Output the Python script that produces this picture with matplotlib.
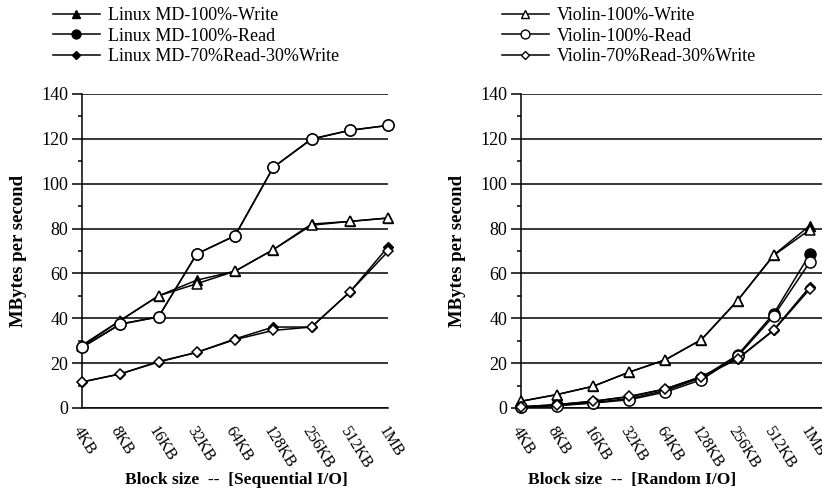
import matplotlib
matplotlib.use('Agg')
import matplotlib.pyplot as plt
from matplotlib.lines import Line2D
from matplotlib.ticker import MultipleLocator
import matplotlib.transforms as mtransforms

plt.rcParams['font.family'] = ['Liberation Serif', 'DejaVu Serif']

block_sizes = ['4KB', '8KB', '16KB', '32KB', '64KB', '128KB', '256KB', '512KB', '1MB']

# Sequential I/O
seq_md_write = [28, 39, 50, 57, 61, 70.6, 82, 83.2, 84.7]
seq_md_read = [27, 37.5, 40.6, 68.7, 76.8, 107.3, 120, 123.8, 126]
seq_md_mixed = [11.6, 15.2, 20.7, 24.8, 30.8, 36.1, 36.1, 51.7, 71.8]
seq_vi_write = [27.5, 39, 50, 55.4, 61, 70.6, 81.5, 83.2, 84.7]
seq_vi_read = [27, 37.3, 40.6, 68.7, 76.8, 107.3, 119.8, 123.8, 126]
seq_vi_mixed = [11.6, 15.2, 20.5, 24.8, 30.5, 34.6, 36.1, 51.7, 69.8]

# Random I/O
rnd_md_write = [3, 6, 9.7, 16, 21.5, 30.5, 47.9, 68.2, 81.3]
rnd_md_read = [0.5, 1.2, 2.4, 4.2, 7.8, 13.5, 23.6, 42, 68.5]
rnd_md_mixed = [0.5, 1.5, 3, 5, 8.5, 14, 22, 34.8, 54]
rnd_vi_write = [3, 6, 9.7, 16, 21.5, 30.5, 47.9, 68, 79.5]
rnd_vi_read = [0.3, 1, 2.2, 3.7, 7.1, 12.6, 23, 41, 65]
rnd_vi_mixed = [0.5, 1.5, 3, 5.2, 8.5, 14, 21.8, 34.6, 53]

md_labels = ['Linux MD-100%-Write', 'Linux MD-100%-Read', 'Linux MD-70%Read-30%Write']
vi_labels = ['Violin-100%-Write', 'Violin-100%-Read', 'Violin-70%Read-30%Write']

markers = ['^', 'o', 'D']
sizes = [7, 8, 5.5]

fig = plt.figure(figsize=(8.22, 4.95), dpi=100)
ax1 = fig.add_axes([82 / 822, 87 / 495, 306 / 822, 314 / 495])
ax2 = fig.add_axes([521 / 822, 87 / 495, 301 / 822, 314 / 495])


def draw(ax, md, vi, xmax, title, label_x):
    x = list(range(len(block_sizes)))
    for vals, m, s in zip(md, markers, sizes):
        ax.plot(x, vals, color='black', lw=1.1, marker=m, ms=s,
                mfc='black', mec='black', clip_on=False, zorder=3)
    for vals, m, s in zip(vi, markers, sizes):
        ax.plot(x, vals, color='black', lw=1.1, marker=m, ms=s,
                mfc='white', mec='black', mew=1.1, clip_on=False, zorder=4)
    ax.set_xlim(0, xmax)
    ax.set_ylim(0, 140)
    ax.yaxis.set_major_locator(MultipleLocator(20))
    ax.yaxis.set_minor_locator(MultipleLocator(10))
    ax.grid(axis='y', which='major', color='black', lw=1.1)
    ax.set_axisbelow(True)
    for side in ['top', 'right']:
        ax.spines[side].set_visible(False)
    ax.spines['left'].set_linewidth(1.1)
    ax.spines['bottom'].set_linewidth(1.1)
    ax.tick_params(axis='y', which='major', length=7, width=1.1, labelsize=13, pad=3)
    ax.tick_params(axis='y', which='minor', length=3, width=1.1)
    ax.set_xticks(x)
    ax.tick_params(axis='x', length=0, pad=14)
    ax.set_xticklabels(block_sizes, rotation=-58, ha='left', va='center',
                       rotation_mode='anchor', fontsize=11.5)
    offset = mtransforms.ScaledTranslation(-6 / 100, 0, fig.dpi_scale_trans)
    for lab in ax.get_xticklabels():
        lab.set_transform(lab.get_transform() + offset)
    ax.set_xlabel(title, fontsize=12.5, fontweight='bold')
    ax.xaxis.set_label_coords(label_x, -0.205)
    ax.set_ylabel('MBytes per second', fontsize=13.5, fontweight='bold', labelpad=10)


draw(ax1, [seq_md_write, seq_md_read, seq_md_mixed],
     [seq_vi_write, seq_vi_read, seq_vi_mixed], 8,
     'Block size  --  [Sequential I/O]', 0.505)
draw(ax2, [rnd_md_write, rnd_md_read, rnd_md_mixed],
     [rnd_vi_write, rnd_vi_read, rnd_vi_mixed], 8.34,
     'Block size  --  [Random I/O]', 0.37)

md_handles = [Line2D([], [], color='black', lw=1.1, marker=m, ms=s * 0.8,
                     mfc='black', mec='black') for m, s in zip(markers, sizes)]
vi_handles = [Line2D([], [], color='black', lw=1.1, marker=m, ms=s * 0.8,
                     mfc='white', mec='black') for m, s in zip(markers, sizes)]

fig.legend(md_handles, md_labels, loc='upper left', bbox_to_anchor=(53 / 822, 1 - 7 / 495),
           frameon=False, fontsize=13, handlelength=2.6, handletextpad=0.45,
           labelspacing=0.2, borderaxespad=0, borderpad=0)
fig.legend(vi_handles, vi_labels, loc='upper left', bbox_to_anchor=(502 / 822, 1 - 7 / 495),
           frameon=False, fontsize=13, handlelength=2.6, handletextpad=0.45,
           labelspacing=0.2, borderaxespad=0, borderpad=0)

fig.savefig('out.png', dpi=100)
